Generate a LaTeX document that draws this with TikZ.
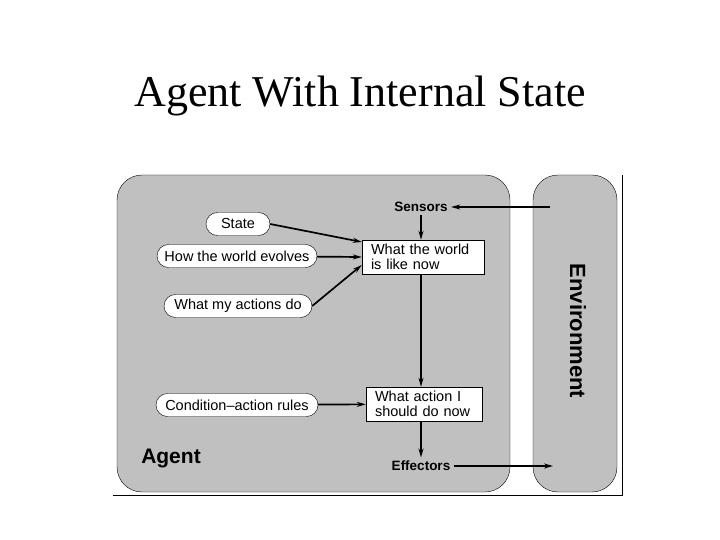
\documentclass[tikz,border=0pt]{standalone}
\usepackage{fontspec}
\setmainfont{Liberation Serif}
\setsansfont{Liberation Sans}
\usetikzlibrary{arrows.meta}
\definecolor{panelgray}{RGB}{192,192,192}
\begin{document}
\begin{tikzpicture}[x=1pt, y=-1pt, >={Stealth[length=9pt,width=5pt]}, font=\sffamily\fontsize{14.5}{15}\selectfont]
        \tikzset{pill/.style={draw, fill=white, rounded corners=11.5pt, minimum height=23pt, inner sep=0pt},
                 infobox/.style={draw, fill=white, align=left, minimum height=34pt, inner xsep=9pt, inner ysep=2pt},
                 flow/.style={->, line width=1.7pt},
                 tag/.style={font=\sffamily\bfseries\fontsize{13.5}{15}\selectfont},
                 panel/.style={draw, fill=panelgray, rounded corners=25pt}}
        \useasboundingbox (0,0) rectangle (720,540);
        \node (title) at (360,96) {\rmfamily\fontsize{44}{46}\selectfont Agent With Internal State};
        % frame and the two panels
        \draw[line width=1pt] (113,495) -- (622,495) -- (622,175);
        \draw[panel] (117,175) rectangle (510,492);
        \draw[panel] (533,175) rectangle (617,492);
        \node[rotate=-90, font=\sffamily\bfseries\fontsize{22}{24}\selectfont] (env) at (578,331) {Environment};
        \node[font=\sffamily\bfseries\fontsize{21}{23}\selectfont] (agent) at (171,458) {Agent};
        \coordinate (envout) at (550,207);
        \coordinate (envin) at (553,466);
        % agent internals
        \node[tag] (sensors) at (421,207) {Sensors};
        \node[tag] (effectors) at (421,466) {Effectors};
        \node[pill, minimum width=64pt] (state) at (238,224) {State};
        \node[pill, minimum width=160pt] (evolves) at (237,256) {How the world evolves};
        \node[pill, minimum width=148pt] (actions) at (238,306) {What my actions do};
        \node[pill, minimum width=162pt] (rules) at (237,405) {Condition--action rules};
        \node[infobox, text width=104pt] (world) at (423,257) {What the world\\is like now};
        \node[infobox, text width=98pt] (action) at (424,404) {What action I\\should do now};
        \draw[flow] (envout) -- (sensors);
        \draw[flow] (sensors) -- (sensors |- world.north);
        \draw[flow] (state.east) -- ([yshift=15pt]world.west);
        \draw[flow] (evolves) -- (world.west);
        \draw[flow] (actions.east) -- ([yshift=-8pt]world.west);
        \draw[flow] (sensors |- world.south) -- (sensors |- action.north);
        \draw[flow] (rules) -- (action);
        \draw[flow] (sensors |- action.south) -- (effectors);
        \draw[flow] (effectors) -- (envin);
    \end{tikzpicture}
\end{document}
